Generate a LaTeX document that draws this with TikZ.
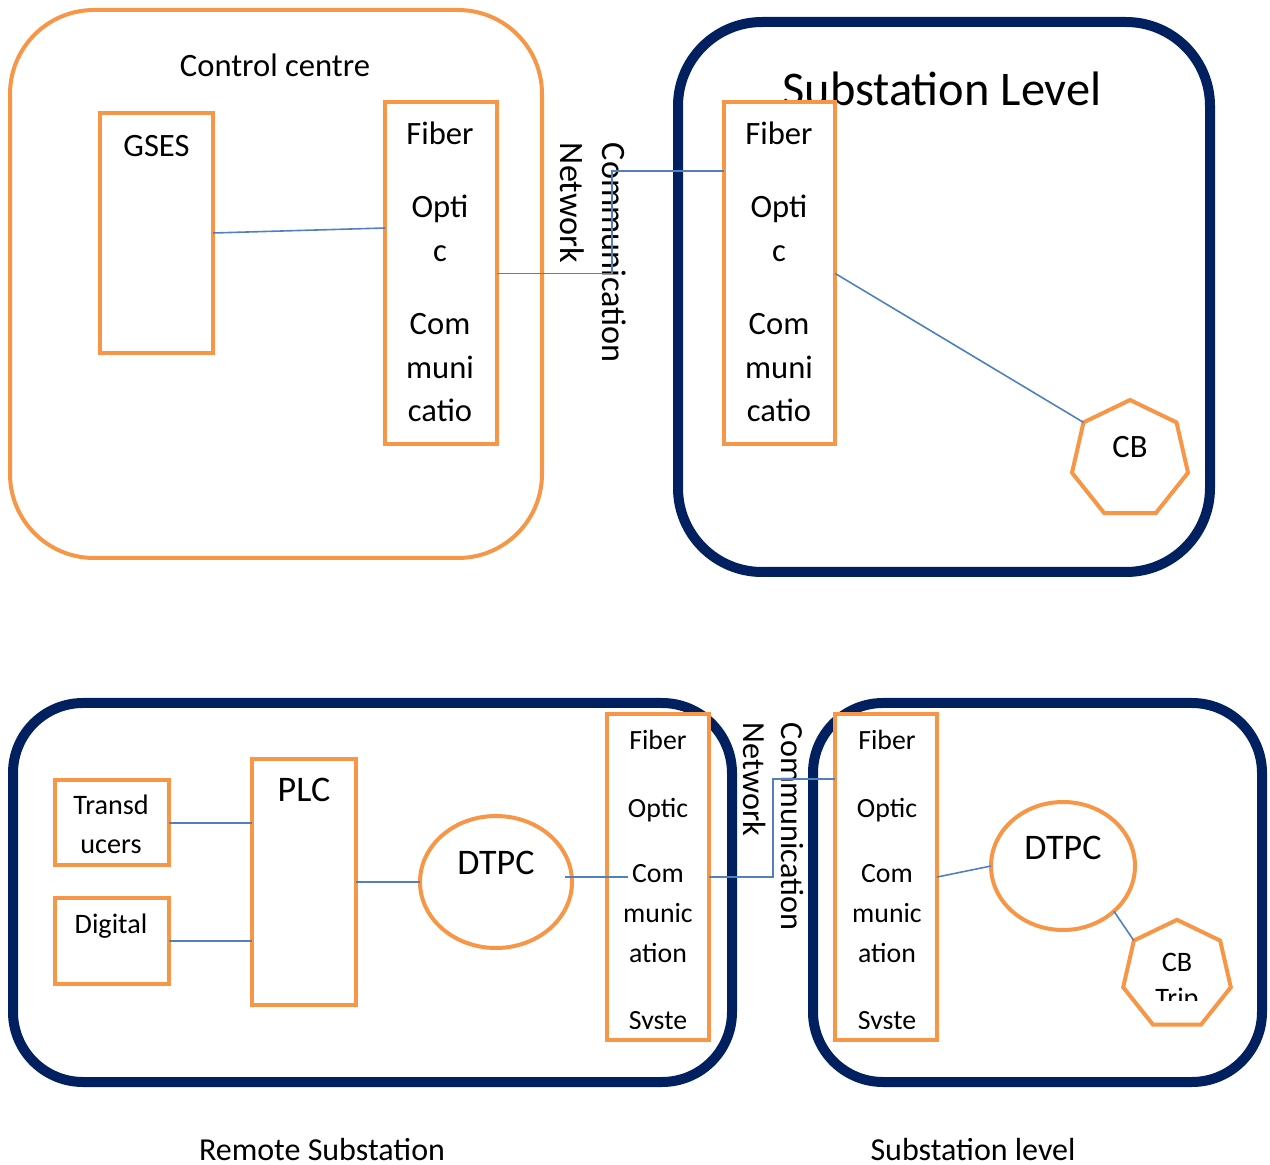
\documentclass[tikz,border=0pt]{standalone}
\usepackage{fontspec}
\setmainfont{Carlito}
\usetikzlibrary{shapes.geometric,calc}
\definecolor{org}{HTML}{F79646}
\definecolor{navy}{HTML}{002060}
\definecolor{lnk}{HTML}{4F81BD}
\newcommand\fsz[2]{\fontsize{#1}{#2}\selectfont}
\begin{document}
\begin{tikzpicture}[x=0.5pt,y=-0.5pt,
  obox/.style={draw=org, line width=2pt, fill=white, inner sep=0pt, outer sep=0pt},
  nbox/.style={draw=navy, line width=5pt, inner sep=0pt, outer sep=0pt},
  link/.style={draw=lnk, line width=0.8pt},
  txt/.style={inner sep=0pt, outer sep=0pt, anchor=base, align=center},
  hept/.style={obox, regular polygon, regular polygon sides=7},
  rot/.style={inner sep=0pt, outer sep=0pt, rotate=-90, anchor=north west, align=left},
]
\useasboundingbox (0,0) rectangle (1270,1165);

% containers
\node[obox, fill=none, rounded corners=42pt, minimum width=266pt, minimum height=274pt] (cc) at (276,284) {};
\node[nbox, rounded corners=42pt, minimum width=266pt, minimum height=275pt] (sl) at (944,297) {};
\node[nbox, rounded corners=35pt, minimum width=359.5pt, minimum height=189.5pt] (rs) at (372.5,892.5) {};
\node[nbox, rounded corners=35pt, minimum width=224.5pt, minimum height=189.5pt] (sl2) at (1037.5,892.5) {};

% titles
\node[txt, font=\fsz{16.3}{20}] (cct) at (275,77) {Control centre};
\node[txt, font=\fsz{24.2}{29}] (slt) at (942,106) {Substation Level};
\node[txt, font=\fsz{16}{20}] (rst) at (322,1160) {Remote Substation};
\node[txt, font=\fsz{16}{20}] (sl2t) at (973,1160) {Substation level};

% top boxes
\node[obox, minimum width=56.5pt, minimum height=120pt] (gses) at (156.5,233) {};
\node[txt, font=\fsz{16.3}{20}] (gsest) at (156.5,157) {GSES};
\node[obox, minimum width=55.75pt, minimum height=171pt] (fo1) at (441,273.5) {};
\node[obox, minimum width=55.75pt, minimum height=171pt] (fo2) at (779.5,273.5) {};
\node[txt, font=\fsz{16.3}{21.75}] (fo1t) at (440,422) {Fiber\\[15pt]Opti\\c\\[15pt]Com\\muni\\catio};
\node[txt, font=\fsz{16.3}{21.75}] (fo2t) at (779,422) {Fiber\\[15pt]Opti\\c\\[15pt]Com\\muni\\catio};
\node[hept, minimum size=59.5pt] (cb) at (1130,459.5) {};
\node[txt, font=\fsz{16.3}{20}] (cbt) at (1130,458) {CB};
\node[rot, font=\fsz{17.1}{21}] (cn1) at (626,143) {Communication\\Network};

% top connectors
\draw[link] (gses.east) -- (fo1.west |- 0,228);
\draw[link] (fo1.east) -| (612,171) -- (fo2.west |- 0,171);
\draw[link] (fo2.east) -- (cb.corner 2);

% bottom boxes
\node[obox, minimum width=57pt, minimum height=42.5pt] (trans) at (112,823) {};
\node[txt, font=\fsz{14.1}{19.5}] (transt) at (111,854) {Transd\\ucers};
\node[obox, minimum width=57pt, minimum height=43.25pt] (dig) at (112,941) {};
\node[txt, font=\fsz{14.1}{19.5}] (digt) at (111,934) {Digital};
\node[obox, minimum width=51.75pt, minimum height=123.25pt] (plc) at (304,882) {};
\node[txt, font=\fsz{18}{22}] (plct) at (304,802) {PLC};
\node[obox, ellipse, minimum width=76pt, minimum height=66pt] (dtpc1) at (496,882) {};
\node[txt, font=\fsz{18}{22}] (dtpc1t) at (496,874) {DTPC};
\node[obox, minimum width=51.25pt, minimum height=162.5pt] (fo3) at (658,877) {};
\node[obox, minimum width=51.25pt, minimum height=162.5pt] (fo4) at (886,877) {};
\begin{scope}
\clip (fo3.north west) rectangle (fo3.east |- 0,1028);
\node[txt, font=\fsz{13.9}{20}] (fo3t) at (658,1029) {Fiber\\[14pt]Optic\\[12.5pt]Com\\munic\\ation\\[13.5pt]Syste};
\end{scope}
\begin{scope}
\clip (fo4.north west) rectangle (fo4.east |- 0,1028);
\node[txt, font=\fsz{13.9}{20}] (fo4t) at (887,1029) {Fiber\\[14pt]Optic\\[12.5pt]Com\\munic\\ation\\[13.5pt]Syste};
\end{scope}
\node[obox, ellipse, minimum width=72pt, minimum height=64pt] (dtpc2) at (1063,866) {};
\node[txt, font=\fsz{18}{22}] (dtpc2t) at (1063,860) {DTPC};
\node[hept, minimum size=55.2pt] (cbtr) at (1177,975) {};
\begin{scope}
\clip (1100,900) rectangle (1250,1000);
\node[txt, font=\fsz{14.1}{17.5}] (cbtrt) at (1177,1007) {CB\\Trip};
\end{scope}
\node[rot, font=\fsz{16.1}{19}] (cn2) at (804,723) {Communication\\Network};

% bottom connectors
\coordinate (d1a) at (565,877);
\coordinate (d1b) at (628,877);
\draw[link] (trans.east) -- (plc.west |- trans.east);
\draw[link] (dig.east) -- (plc.west |- dig.east);
\draw[link] (plc.east) -- (dtpc1.west);
\draw[link] (d1a) -- (d1b);
\draw[link] (fo3.east) -| (773,779) -- (fo4.west |- 0,779);
\draw[link] (fo4.east) -- (dtpc2.west);
\draw[link] (dtpc2.south east) -- (cbtr.corner 2);
\end{tikzpicture}
\end{document}
